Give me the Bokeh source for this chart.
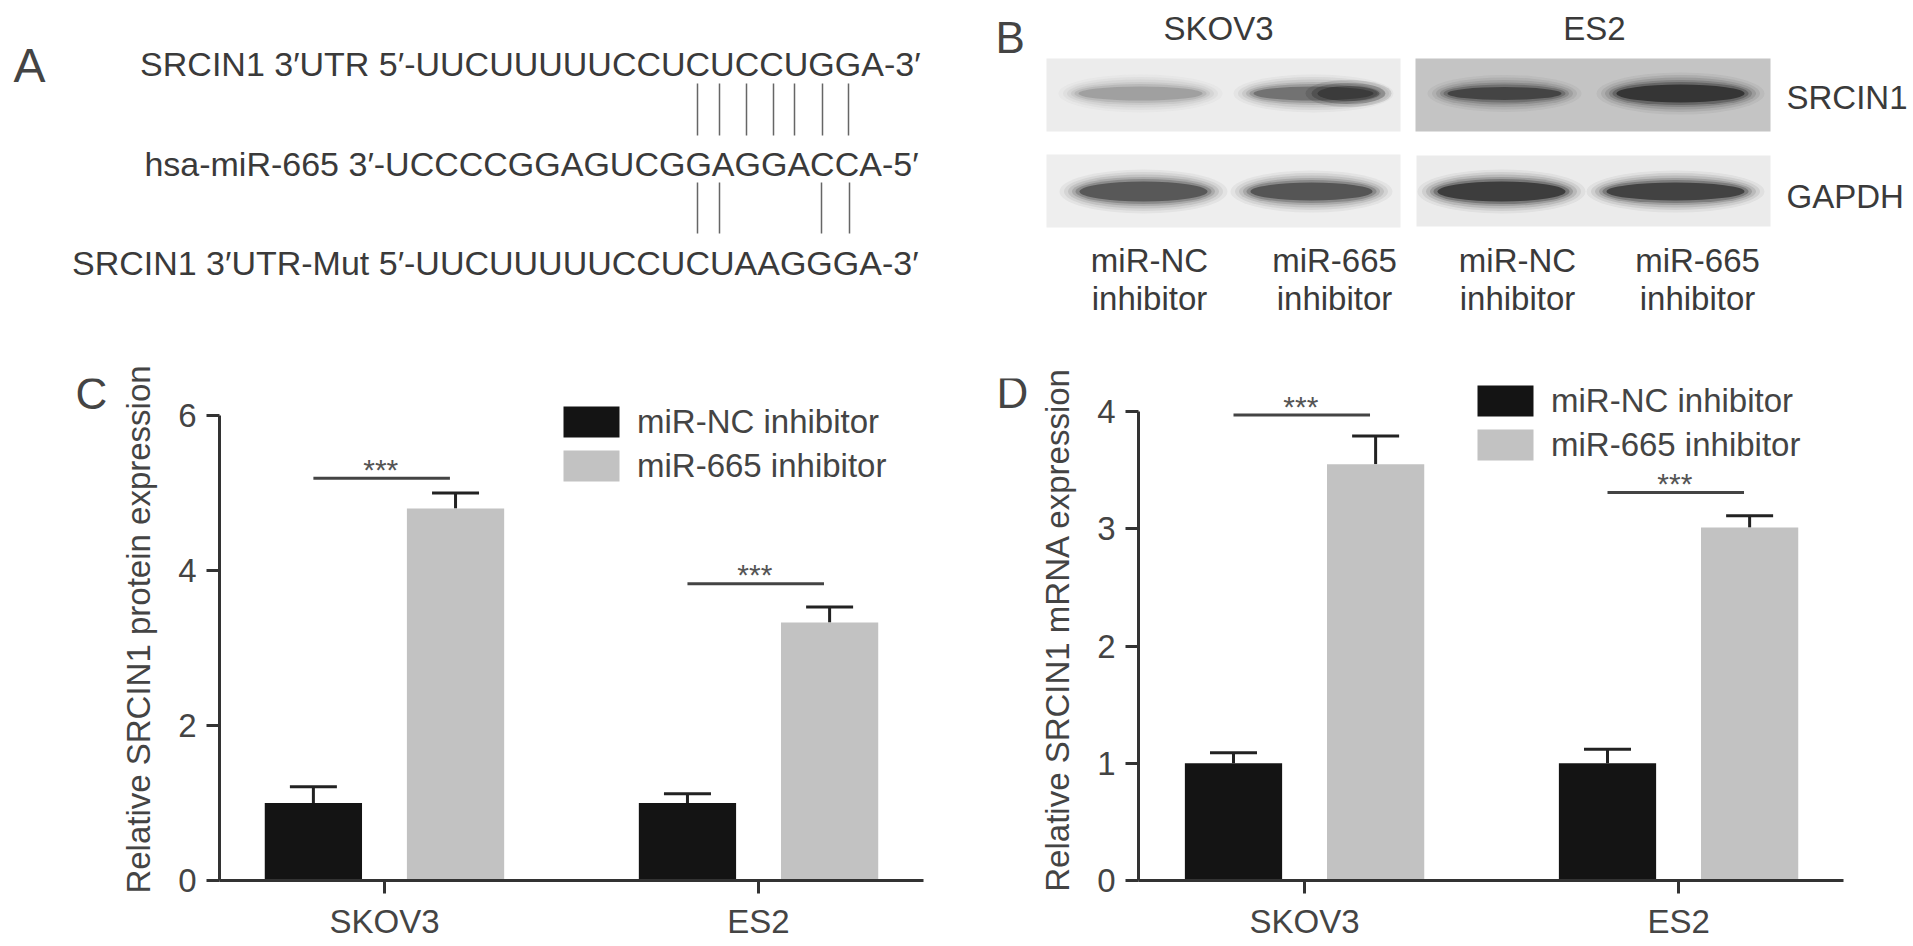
import numpy as np
from bokeh.plotting import figure
from bokeh.layouts import column, row
from bokeh.models import (Range1d, FixedTicker, ColumnDataSource, Whisker, TeeHead,
                          Legend, LegendItem)
from bokeh.core.properties import value
from bokeh.embed import file_html
from bokeh.resources import INLINE

# ---------------- data ----------------
categories = ["SKOV3", "ES2"]
series = ["miR-NC inhibitor", "miR-665 inhibitor"]

protein_nc = [1.00, 1.00]
protein_nc_err = [0.21, 0.12]
protein_665 = [4.80, 3.33]
protein_665_err = [0.20, 0.20]
protein_sig = [5.19, 3.83]
protein_ticks = [0, 2, 4, 6]

mrna_nc = [1.00, 1.00]
mrna_nc_err = [0.09, 0.12]
mrna_665 = [3.55, 3.01]
mrna_665_err = [0.24, 0.10]
mrna_sig = [3.97, 3.31]
mrna_ticks = [0, 1, 2, 3, 4]

seq_lines = ["SRCIN1 3\u2032UTR 5\u2032-UUCUUUUUCCUCUCCUGGA-3\u2032",
             "hsa-miR-665 3\u2032-UCCCCGGAGUCGGAGGACCA-5\u2032",
             "SRCIN1 3\u2032UTR-Mut 5\u2032-UUCUUUUUCCUCUAAGGGA-3\u2032"]

blot_cells = ["SKOV3", "ES2"]
blot_rows = ["SRCIN1", "GAPDH"]
lane_labels_1 = ["miR-NC", "miR-665", "miR-NC", "miR-665"]
lane_labels_2 = ["inhibitor", "inhibitor", "inhibitor", "inhibitor"]
srcin1_intensity = [0.40, 0.66, 0.86, 0.95]
gapdh_intensity = [0.80, 0.82, 0.95, 0.92]

FONT = value("Liberation Sans")
TXT = "#3a3a3a"
BLACK = "#141414"
GREY = "#c2c2c2"

# common vertical borders of the bottom row (page pixels)
ROW_TOP = 360
ROW_H = 586
FRAME_TOP = 378
FRAME_BOTTOM = 880
MB_TOP = FRAME_TOP - ROW_TOP
MB_BOTTOM = ROW_TOP + ROW_H - FRAME_BOTTOM


def canvas(w, h, x0, y0, mb_top=0, mb_bottom=0):
    """Plain figure whose data units are page pixels (y downwards)."""
    f = figure(width=w, height=h, x_range=Range1d(x0, x0 + w),
               y_range=Range1d(y0 + h - mb_bottom, y0 + mb_top),
               output_backend="svg", toolbar_location=None, min_border=0,
               min_border_top=mb_top, min_border_bottom=mb_bottom,
               x_axis_location=None, y_axis_location=None)
    f.grid.visible = False
    f.outline_line_color = None
    return f


# ---------------- top figure: panels A and B ----------------
top = canvas(1913, 360, 0, 0)

# panel A
top.text(x=[13], y=[65], text=["A"], text_font=FONT, text_font_size="48px",
         text_color="#444444", text_baseline="middle", text_align="left")
top.text(x=[920, 918, 918], y=[63, 163, 262], text=seq_lines, text_font=FONT,
         text_font_size="34px", text_color=TXT, text_baseline="middle", text_align="right")
pair_top_x = [697, 719, 746, 773, 794, 822, 848]
pair_bot_x = [697, 719, 821, 849]
top.segment(x0=pair_top_x, y0=[83] * 7, x1=pair_top_x, y1=[135] * 7, line_color="#666666", line_width=1.5)
top.segment(x0=pair_bot_x, y0=[182] * 4, x1=pair_bot_x, y1=[233] * 4, line_color="#666666", line_width=1.5)

# panel B
top.text(x=[995], y=[37], text=["B"], text_font=FONT, text_font_size="44px",
         text_color="#444444", text_baseline="middle", text_align="left")
top.text(x=[1218, 1594], y=[28, 28], text=blot_cells, text_font=FONT, text_font_size="33px",
         text_color=TXT, text_baseline="middle", text_align="center")
top.text(x=[1786, 1786], y=[97, 196], text=blot_rows, text_font=FONT, text_font_size="33px",
         text_color=TXT, text_baseline="middle", text_align="left")
lane_x = [1149, 1334, 1517, 1697]
top.text(x=lane_x, y=[260] * 4, text=lane_labels_1, text_font=FONT, text_font_size="33px",
         text_color=TXT, text_baseline="middle", text_align="center")
top.text(x=lane_x, y=[298] * 4, text=lane_labels_2, text_font=FONT, text_font_size="33px",
         text_color=TXT, text_baseline="middle", text_align="center")

# blot backgrounds
top.quad(left=[1046, 1415, 1046, 1416], right=[1400, 1770, 1400, 1770],
         top=[58, 58, 154, 155], bottom=[131, 131, 227, 226],
         fill_color=["#ececec", "#c4c4c4", "#eeeeee", "#ebebeb"], line_color=None)


def band_color(v):
    g = int(round(235 * (1 - v)))
    return "#%02x%02x%02x" % (g, g, g)


def draw_bands(xs, ws, y, hs, intens):
    layers = [(40, 24, 0.05), (31, 19, 0.08), (23, 14, 0.11), (15, 9, 0.16), (8, 5, 0.25), (0, 0, 0.55)]
    for gw, gh, a in layers:
        top.ellipse(x=xs, y=[y] * len(xs), width=[w + gw for w in ws], height=[h + gh for h in hs],
                    fill_color=[band_color(v) for v in intens], fill_alpha=a, line_color=None)


draw_bands([1140, 1313, 1504, 1680], [124, 120, 114, 128], 93, [14, 14, 13, 18], srcin1_intensity)
# darker right end of lane 2
for gw, a in [(24, 0.12), (12, 0.2), (0, 0.28)]:
    top.ellipse(x=[1348], y=[93], width=[62 + gw], height=[15 + gw * 0.5], fill_color=band_color(0.98),
                fill_alpha=a, line_color=None)
draw_bands([1143, 1311, 1501, 1675], [128, 122, 128, 138], 191, [20, 18, 20, 18], gapdh_intensity)


# ---------------- bar chart helper ----------------
def bar_panel(width, mb_left, mb_right, xr, yr, ticks,
              nc, nc_err, kd, kd_err, sig, ylabel, legend_loc):
    p = figure(width=width, height=ROW_H, x_range=Range1d(*xr), y_range=Range1d(*yr),
               output_backend="svg", toolbar_location=None,
               min_border_left=mb_left, min_border_right=mb_right,
               min_border_top=MB_TOP, min_border_bottom=MB_BOTTOM)
    p.grid.visible = False
    p.outline_line_color = None

    idx = np.arange(len(categories))
    src_nc = ColumnDataSource(dict(x=idx - 0.19, top=nc, upper=np.array(nc) + np.array(nc_err), lower=nc))
    src_kd = ColumnDataSource(dict(x=idx + 0.19, top=kd, upper=np.array(kd) + np.array(kd_err), lower=kd))
    r_nc = p.vbar(x="x", top="top", width=0.26, source=src_nc, fill_color=BLACK, line_color=None)
    r_kd = p.vbar(x="x", top="top", width=0.26, source=src_kd, fill_color=GREY, line_color=None)
    for s in (src_nc, src_kd):
        w = Whisker(source=s, base="x", upper="upper", lower="lower", line_color="#222222", line_width=3,
                    upper_head=TeeHead(size=47, line_color="#222222", line_width=3), lower_head=None)
        p.add_layout(w)

    # significance lines and stars
    p.segment(x0=idx - 0.19, y0=sig, x1=idx + 0.175, y1=sig, line_color="#444444", line_width=3)
    p.text(x=idx - 0.01, y=sig, text=["***"] * len(idx), text_font=FONT, text_font_size="30px",
           text_color="#555555", text_align="center", text_baseline="alphabetic", y_offset=-9)

    # axes
    xa, ya = p.xaxis[0], p.yaxis[0]
    xa.ticker = FixedTicker(ticks=list(idx))
    xa.major_label_overrides = {int(i): c for i, c in enumerate(categories)}
    ya.ticker = FixedTicker(ticks=ticks)
    ya.bounds = (ticks[0], ticks[-1])
    ya.axis_label = ylabel
    for ax in (xa, ya):
        ax.axis_line_width = 3
        ax.axis_line_color = "#333333"
        ax.major_tick_line_width = 3
        ax.major_tick_line_color = "#333333"
        ax.major_tick_out = 13
        ax.major_tick_in = 0
        ax.minor_tick_out = 0
        ax.minor_tick_in = 0
        ax.major_label_text_font = "Liberation Sans"
        ax.major_label_text_font_size = "33px"
        ax.major_label_text_color = "#444444"
    xa.major_label_standoff = 9
    ya.major_label_standoff = 10
    ya.axis_label_text_font = "Liberation Sans"
    ya.axis_label_text_font_size = "33px"
    ya.axis_label_text_font_style = "normal"
    ya.axis_label_text_color = "#444444"
    ya.axis_label_standoff = 18

    legend = Legend(items=[LegendItem(label=series[0], renderers=[r_nc]),
                           LegendItem(label=series[1], renderers=[r_kd])],
                    location=legend_loc, glyph_width=70, glyph_height=39, label_standoff=11,
                    spacing=5, padding=0, margin=0, border_line_color=None,
                    background_fill_alpha=0, label_text_font="Liberation Sans",
                    label_text_font_size="33px", label_text_color="#444444")
    p.add_layout(legend)
    return p


letterC = canvas(115, ROW_H, 0, ROW_TOP, MB_TOP, MB_BOTTOM)
letterC.text(x=[91], y=[393], text=["C"], text_font=FONT, text_font_size="44px",
             text_color="#444444", text_baseline="middle", text_align="center")
pC = bar_panel(845, 104, 37, (-0.441, 1.441), (0, (FRAME_BOTTOM - FRAME_TOP) / 77.5), protein_ticks,
               protein_nc, protein_nc_err, protein_665, protein_665_err, protein_sig,
               "Relative SRCIN1 protein expression", (337, FRAME_BOTTOM - 485))

letterD = canvas(75, ROW_H, 960, ROW_TOP, MB_TOP, MB_BOTTOM)
letterD.text(x=[1012], y=[392], text=["D"], text_font=FONT, text_font_size="44px",
             text_color="#444444", text_baseline="middle", text_align="center")
pD = bar_panel(878, 103, 70, (-0.444, 1.441), (0, (FRAME_BOTTOM - FRAME_TOP) / 117.25), mrna_ticks,
               mrna_nc, mrna_nc_err, mrna_665, mrna_665_err, mrna_sig,
               "Relative SRCIN1 mRNA expression", (332, FRAME_BOTTOM - 464))

layout = column(top, row(letterC, pC, letterD, pD, spacing=0), spacing=0)
open("out.html", "w").write(file_html(layout, INLINE))
